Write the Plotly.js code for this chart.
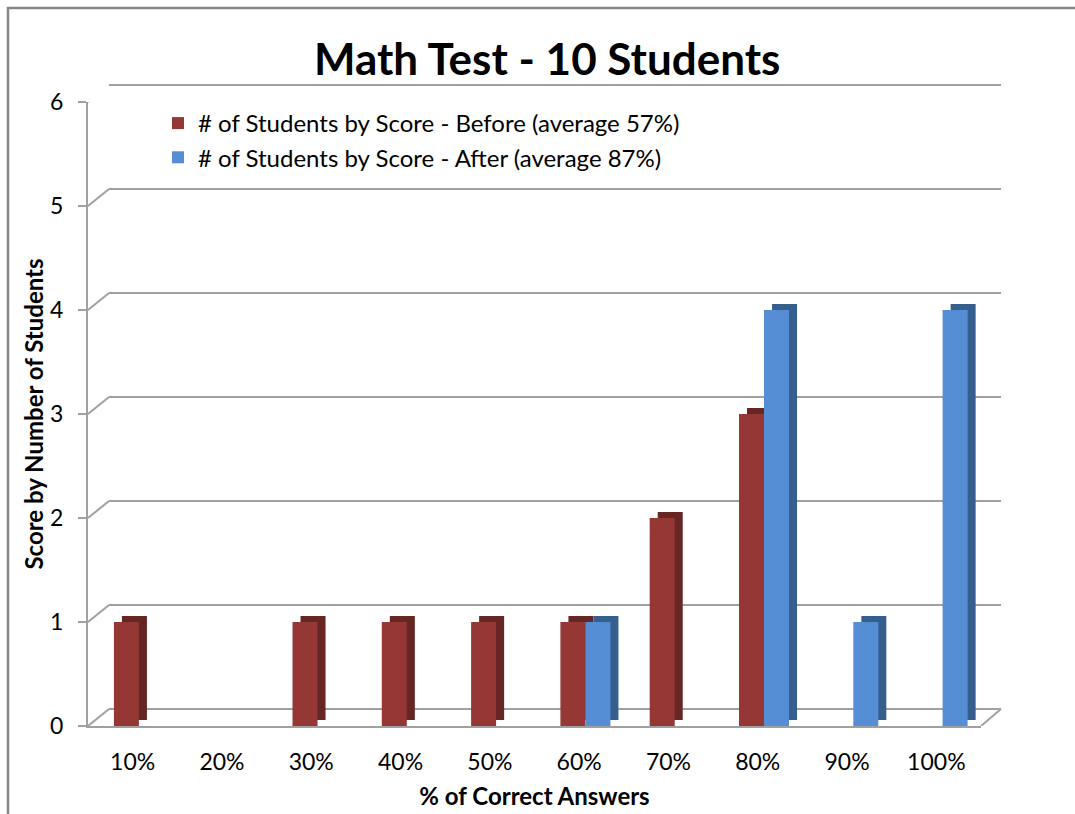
<!DOCTYPE html>
<html>
<head>
<meta charset="utf-8">
<script src="https://cdn.plot.ly/plotly-3.0.1.min.js"></script>
<style>html,body{margin:0;padding:0;background:#fff;}#chart{width:1075px;height:814px;}</style>
</head>
<body>
<div id="chart"></div>
<script>
// ---- data ----
const categories = ['10%','20%','30%','40%','50%','60%','70%','80%','90%','100%'];
const before = [1,0,1,1,1,1,2,3,0,0];
const after  = [0,0,0,0,0,1,0,4,1,4];
const seriesNames = ['# of Students by Score - Before (average 57%)', '# of Students by Score - After (average 87%)'];
const yTicks = [0,1,2,3,4,5,6];

// ---- style ----
const FONT = 'Lato, "Open Sans", "Liberation Sans", sans-serif';
const redFront = '#953735', redSide = '#652624';
const blueFront = '#558ED5', blueSide = '#365F8E';
const TOP = 80, BOTTOM = 726, LEFT = 88, RIGHT = 1001;
const W = RIGHT - LEFT, H = BOTTOM - TOP;   // plot area px
const dx = 21, dy = 17;                      // 3D wall offset px
const pxPerUnit = 624 / 6;                   // y scale
const pad = 0.05;                            // back-axis range pad so edge gridlines show
const barW = 0.28, sideDx = 0.09, sideDy = 6 / pxPerUnit;

function side(vals, off, color){
  return {type:'bar', x:categories, y:vals, base:sideDy, offset:off + sideDx, width:barW,
    marker:{color:color, line:{width:0}}, xaxis:'x2', yaxis:'y2', showlegend:false, hoverinfo:'skip'};
}
function front(vals, off, color, name){
  return {type:'bar', x:categories, y:vals, offset:off, width:barW, name:name,
    marker:{color:color, line:{width:0}}, xaxis:'x2', yaxis:'y2'};
}

const traces = [
  {type:'scatter', x:[], y:[], xaxis:'x', yaxis:'y', showlegend:false, hoverinfo:'skip'},
  side(before, -0.21, redSide),
  side(after, -0.21 + barW, blueSide),
  front(before, -0.21, redFront, seriesNames[0]),
  front(after, -0.21 + barW, blueFront, seriesNames[1])
];

const lineStyle = {color:'#a0a0a0', width:2};
const shapes = yTicks.map(v => ({type:'line', xref:'paper', yref:'y2', x0:0, x1:dx/W, y0:v, y1:v + dy/pxPerUnit, line:lineStyle, layer:'below'}));
shapes.push({type:'line', xref:'paper', yref:'y2', x0:893/W, x1:1, y0:0, y1:dy/pxPerUnit, line:lineStyle, layer:'below'});
// chart frame (top and left edges visible)
shapes.push({type:'path', xref:'paper', yref:'paper',
  path:`M ${(8-LEFT)/W} ${(BOTTOM-830)/H} L ${(8-LEFT)/W} ${(BOTTOM-8)/H} L ${(1100-LEFT)/W} ${(BOTTOM-8)/H}`,
  line:{color:'#878787', width:2.5}});

const backBottomPx = dy - pad * pxPerUnit;

const layout = {
  width:1075, height:814,
  margin:{l:LEFT, r:1075-RIGHT, t:TOP, b:814-BOTTOM},
  paper_bgcolor:'#ffffff', plot_bgcolor:'rgba(0,0,0,0)',
  font:{family:FONT, color:'#000000', size:23},
  title:{text:'Math Test - 10 Students', font:{family:FONT, size:44, color:'#000', weight:'bold'},
    x:0.509, xref:'container', xanchor:'center', y:1-60/814, yref:'container', yanchor:'middle'},
  barmode:'overlay',
  showlegend:true,
  legend:{x:(158-LEFT)/W, y:(BOTTOM-101)/H, xanchor:'left', yanchor:'top', bgcolor:'rgba(0,0,0,0)',
    font:{family:FONT, size:24, color:'#000'}, traceorder:'normal', itemwidth:30, tracegroupgap:0},
  xaxis:{domain:[dx/W, 1], anchor:'y', range:[-0.5, 9.5], showgrid:false, zeroline:false,
    showticklabels:false, showline:false, ticks:'', fixedrange:true},
  yaxis:{domain:[backBottomPx/H, 1], anchor:'x', range:[-pad, 6 + pad], tickvals:yTicks, showgrid:true,
    gridcolor:'#a0a0a0', gridwidth:2, zeroline:false, showticklabels:false, showline:false, ticks:''},
  xaxis2:{domain:[0, 893/W], anchor:'y2', type:'category', showgrid:false, zeroline:false,
    showline:true, linecolor:'#a0a0a0', linewidth:2, ticks:'', ticklabelstandoff:14,
    tickfont:{family:FONT, size:23, color:'#000'},
    title:{text:'% of Correct Answers', font:{family:FONT, size:24, color:'#000', weight:'bold'}, standoff:15}},
  yaxis2:{domain:[0, 624/H], anchor:'x2', range:[0,6], tickvals:yTicks, showgrid:false, zeroline:false,
    showline:true, linecolor:'#a0a0a0', linewidth:2, ticks:'outside', ticklen:8, tickcolor:'#a0a0a0', tickwidth:2,
    ticklabelstandoff:10,
    tickfont:{family:FONT, size:23, color:'#000'},
    title:{text:'Score by Number of Students', font:{family:FONT, size:24, color:'#000', weight:'bold'}, standoff:0}},
  shapes:shapes
};

Plotly.newPlot('chart', traces, layout, {displayModeBar:false, staticPlot:true});
</script>
</body>
</html>
